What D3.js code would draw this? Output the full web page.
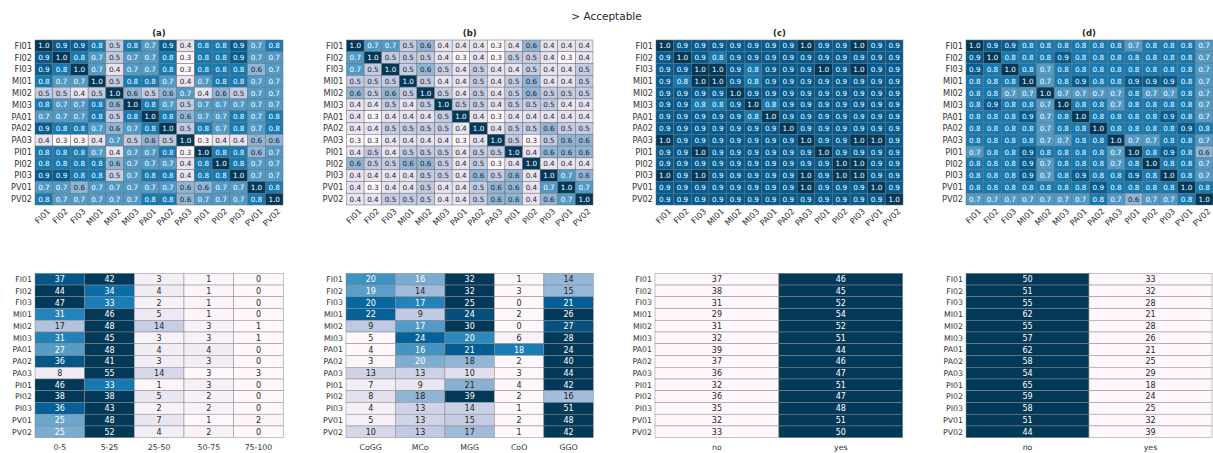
<!DOCTYPE html>
<html>
<head>
<meta charset="utf-8">
<script src="https://cdn.jsdelivr.net/npm/d3@7"></script>
<style>
  html, body { margin: 0; padding: 0; background: #fff; }
  svg { display: block; font-family: "DejaVu Sans", sans-serif; }
</style>
</head>
<body>
<svg id="chart" width="1213" height="453"></svg>
<script>
// ---------- DATA ----------
const regions = ["FI01","FI02","FI03","MI01","MI02","MI03","PA01","PA02","PA03","PI01","PI02","PI03","PV01","PV02"];
const panelTitles = ["(a)","(b)","(c)","(d)"];
const mainTitle = "> Acceptable";

const corrA = [
  [1.0,0.9,0.9,0.8,0.5,0.8,0.7,0.9,0.4,0.8,0.8,0.9,0.7,0.8],
  [0.9,1.0,0.8,0.7,0.5,0.7,0.7,0.8,0.3,0.8,0.8,0.9,0.7,0.7],
  [0.9,0.8,1.0,0.7,0.4,0.7,0.7,0.8,0.3,0.8,0.8,0.8,0.6,0.7],
  [0.8,0.7,0.7,1.0,0.5,0.8,0.8,0.7,0.4,0.7,0.8,0.8,0.7,0.7],
  [0.5,0.5,0.4,0.5,1.0,0.6,0.5,0.6,0.7,0.4,0.6,0.5,0.7,0.7],
  [0.8,0.7,0.7,0.8,0.6,1.0,0.8,0.7,0.5,0.7,0.7,0.7,0.7,0.7],
  [0.7,0.7,0.7,0.8,0.5,0.8,1.0,0.8,0.6,0.7,0.7,0.8,0.7,0.8],
  [0.9,0.8,0.8,0.7,0.6,0.7,0.8,1.0,0.5,0.8,0.7,0.8,0.7,0.8],
  [0.4,0.3,0.3,0.4,0.7,0.5,0.6,0.5,1.0,0.3,0.4,0.4,0.6,0.6],
  [0.8,0.8,0.8,0.7,0.4,0.7,0.7,0.8,0.3,1.0,0.8,0.8,0.6,0.7],
  [0.8,0.8,0.8,0.8,0.6,0.7,0.7,0.7,0.4,0.8,1.0,0.8,0.7,0.7],
  [0.9,0.9,0.8,0.8,0.5,0.7,0.8,0.8,0.4,0.8,0.8,1.0,0.7,0.7],
  [0.7,0.7,0.6,0.7,0.7,0.7,0.7,0.7,0.6,0.6,0.7,0.7,1.0,0.8],
  [0.8,0.7,0.7,0.7,0.7,0.7,0.8,0.8,0.6,0.7,0.7,0.7,0.8,1.0]
];
const corrB = [
  [1.0,0.7,0.7,0.5,0.6,0.4,0.4,0.4,0.3,0.4,0.6,0.4,0.4,0.4],
  [0.7,1.0,0.5,0.5,0.5,0.4,0.3,0.4,0.3,0.5,0.5,0.4,0.3,0.4],
  [0.7,0.5,1.0,0.5,0.6,0.5,0.4,0.5,0.4,0.4,0.5,0.4,0.4,0.5],
  [0.5,0.5,0.5,1.0,0.5,0.4,0.4,0.5,0.4,0.5,0.6,0.4,0.4,0.5],
  [0.6,0.5,0.6,0.5,1.0,0.5,0.4,0.5,0.4,0.5,0.6,0.5,0.5,0.5],
  [0.4,0.4,0.5,0.4,0.5,1.0,0.5,0.5,0.4,0.5,0.5,0.5,0.4,0.4],
  [0.4,0.3,0.4,0.4,0.4,0.5,1.0,0.4,0.3,0.4,0.4,0.4,0.4,0.4],
  [0.4,0.4,0.5,0.5,0.5,0.5,0.4,1.0,0.4,0.5,0.5,0.6,0.5,0.5],
  [0.3,0.3,0.4,0.4,0.4,0.4,0.3,0.4,1.0,0.5,0.3,0.5,0.6,0.6],
  [0.4,0.5,0.4,0.5,0.5,0.5,0.4,0.5,0.5,1.0,0.4,0.6,0.6,0.6],
  [0.6,0.5,0.5,0.6,0.6,0.5,0.4,0.5,0.3,0.4,1.0,0.4,0.4,0.4],
  [0.4,0.4,0.4,0.4,0.5,0.5,0.4,0.6,0.5,0.6,0.4,1.0,0.7,0.6],
  [0.4,0.3,0.4,0.4,0.5,0.4,0.4,0.5,0.6,0.6,0.4,0.7,1.0,0.7],
  [0.4,0.4,0.5,0.5,0.5,0.4,0.4,0.5,0.6,0.6,0.4,0.6,0.7,1.0]
];
const corrC = [
  [1.0,0.9,0.9,0.9,0.9,0.9,0.9,0.9,1.0,0.9,0.9,1.0,0.9,0.9],
  [0.9,1.0,0.9,0.8,0.9,0.9,0.9,0.9,0.9,0.9,0.9,0.9,0.9,0.9],
  [0.9,0.9,1.0,1.0,0.9,0.8,0.9,0.9,0.9,1.0,0.9,1.0,0.9,0.9],
  [0.9,0.8,1.0,1.0,0.9,0.8,0.9,0.9,0.9,0.9,0.9,0.9,0.9,0.9],
  [0.9,0.9,0.9,0.9,1.0,0.9,0.9,0.9,0.9,0.9,0.9,0.9,0.9,0.9],
  [0.9,0.9,0.8,0.8,0.9,1.0,0.8,0.9,0.9,0.9,0.9,0.9,0.9,0.9],
  [0.9,0.9,0.9,0.9,0.9,0.8,1.0,0.9,0.9,0.9,0.9,0.9,0.9,0.9],
  [0.9,0.9,0.9,0.9,0.9,0.9,0.9,1.0,0.9,0.9,0.9,0.9,0.9,0.9],
  [1.0,0.9,0.9,0.9,0.9,0.9,0.9,0.9,1.0,0.9,0.9,1.0,1.0,0.9],
  [0.9,0.9,1.0,0.9,0.9,0.9,0.9,0.9,0.9,1.0,0.9,0.9,0.9,0.9],
  [0.9,0.9,0.9,0.9,0.9,0.9,0.9,0.9,0.9,0.9,1.0,1.0,0.9,0.9],
  [1.0,0.9,1.0,0.9,0.9,0.9,0.9,0.9,1.0,0.9,1.0,1.0,0.9,0.9],
  [0.9,0.9,0.9,0.9,0.9,0.9,0.9,0.9,1.0,0.9,0.9,0.9,1.0,0.9],
  [0.9,0.9,0.9,0.9,0.9,0.9,0.9,0.9,0.9,0.9,0.9,0.9,0.9,1.0]
];
const corrD = [
  [1.0,0.9,0.9,0.8,0.8,0.8,0.8,0.8,0.8,0.7,0.8,0.8,0.8,0.7],
  [0.9,1.0,0.8,0.8,0.8,0.9,0.8,0.8,0.8,0.8,0.8,0.8,0.8,0.7],
  [0.9,0.8,1.0,0.8,0.7,0.8,0.8,0.8,0.8,0.8,0.8,0.8,0.8,0.7],
  [0.8,0.8,0.8,1.0,0.7,0.8,0.9,0.8,0.8,0.9,0.9,0.9,0.8,0.7],
  [0.8,0.8,0.7,0.7,1.0,0.7,0.7,0.7,0.7,0.8,0.7,0.7,0.8,0.7],
  [0.8,0.9,0.8,0.8,0.7,1.0,0.8,0.8,0.7,0.8,0.8,0.8,0.8,0.7],
  [0.8,0.8,0.8,0.9,0.7,0.8,1.0,0.8,0.8,0.8,0.8,0.9,0.8,0.7],
  [0.8,0.8,0.8,0.8,0.7,0.8,0.8,1.0,0.8,0.8,0.8,0.8,0.9,0.8],
  [0.8,0.8,0.8,0.8,0.7,0.7,0.8,0.8,1.0,0.7,0.7,0.8,0.8,0.7],
  [0.7,0.8,0.8,0.9,0.8,0.8,0.8,0.8,0.7,1.0,0.8,0.9,0.8,0.6],
  [0.8,0.8,0.8,0.9,0.7,0.8,0.8,0.8,0.7,0.8,1.0,0.8,0.8,0.7],
  [0.8,0.8,0.8,0.9,0.7,0.8,0.9,0.8,0.8,0.9,0.8,1.0,0.8,0.7],
  [0.8,0.8,0.8,0.8,0.8,0.8,0.8,0.9,0.8,0.8,0.8,0.8,1.0,0.8],
  [0.7,0.7,0.7,0.7,0.7,0.7,0.7,0.8,0.7,0.6,0.7,0.7,0.8,1.0]
];

const binsA = ["0-5","5-25","25-50","50-75","75-100"];
const countsA = [
  [37,42,3,1,0],[44,34,4,1,0],[47,33,2,1,0],[31,46,5,1,0],[17,48,14,3,1],
  [31,45,3,3,1],[27,48,4,4,0],[36,41,3,3,0],[8,55,14,3,3],[46,33,1,3,0],
  [38,38,5,2,0],[36,43,2,2,0],[25,48,7,1,2],[25,52,4,2,0]
];
const catsB = ["CoGG","MCo","MGG","CoO","GGO"];
const countsB = [
  [20,16,32,1,14],[19,14,32,3,15],[20,17,25,0,21],[22,9,24,2,26],[9,17,30,0,27],
  [5,24,20,6,28],[4,16,21,18,24],[3,20,18,2,40],[13,13,10,3,44],[7,9,21,4,42],
  [8,18,39,2,16],[4,13,14,1,51],[5,13,15,2,48],[10,13,17,1,42]
];
const yesNo = ["no","yes"];
const noC  = [37,38,31,29,31,32,39,37,36,32,36,35,32,33];
const yesC = [46,45,52,54,52,51,44,46,47,51,47,48,51,50];
const noD  = [50,51,55,62,55,57,62,58,54,65,59,58,51,44];
const yesD = [33,32,28,21,28,26,21,25,29,18,24,25,32,39];

// ---------- LAYOUT ----------
const svg = d3.select("#chart");
const W = 1213, H = 453;
const lefts  = [35, 346.5, 656, 966];
const rights = [283, 593, 903, 1213];
const topY0 = 40, topY1 = 205;
const botY0 = 273.3, botY1 = 437.7;
const font = "DejaVu Sans, sans-serif";

const topColor = d3.scaleSequential(d3.interpolatePuBu).domain([0.3, 1.0]);

function textColor(c) {
  const rgb = d3.rgb(c);
  const lin = v => { v /= 255; return v <= 0.03928 ? v / 12.92 : Math.pow((v + 0.055) / 1.055, 2.4); };
  const lum = 0.2126 * lin(rgb.r) + 0.7152 * lin(rgb.g) + 0.0722 * lin(rgb.b);
  return lum > 0.408 ? "#262626" : "#ffffff";
}

svg.append("text")
  .attr("x", W / 2).attr("y", 20)
  .attr("text-anchor", "middle")
  .attr("font-size", 10.5).attr("fill", "#262626")
  .text(mainTitle);

// ---------- TOP CORRELATION HEATMAPS ----------
const mats = [corrA, corrB, corrC, corrD];
mats.forEach((m, p) => {
  const x = d3.scaleBand().domain(regions).range([lefts[p], rights[p]]);
  const y = d3.scaleBand().domain(regions).range([topY0, topY1]);
  const g = svg.append("g");
  const cells = [];
  m.forEach((row, i) => row.forEach((v, j) => cells.push({ r: regions[i], c: regions[j], v })));
  g.selectAll("rect").data(cells).join("rect")
    .attr("x", d => x(d.c)).attr("y", d => y(d.r))
    .attr("width", x.bandwidth()).attr("height", y.bandwidth())
    .attr("fill", d => topColor(d.v))
    .attr("stroke", "#6e6e6e").attr("stroke-width", 0.5);
  g.selectAll("text.ann").data(cells).join("text")
    .attr("class", "ann")
    .attr("x", d => x(d.c) + x.bandwidth() / 2)
    .attr("y", d => y(d.r) + y.bandwidth() / 2)
    .attr("dy", "0.36em")
    .attr("text-anchor", "middle")
    .attr("font-size", 7.2)
    .attr("fill", d => textColor(topColor(d.v)))
    .text(d => d3.format(".1f")(d.v));
  // row labels
  g.selectAll("text.rl").data(regions).join("text")
    .attr("class", "rl")
    .attr("x", lefts[p] - 3)
    .attr("y", d => y(d) + y.bandwidth() / 2)
    .attr("dy", "0.36em")
    .attr("text-anchor", "end")
    .attr("font-size", 8.2).attr("fill", "#333")
    .text(d => d);
  // column labels, rotated
  g.selectAll("text.cl").data(regions).join("text")
    .attr("class", "cl")
    .attr("transform", d => `translate(${x(d) + x.bandwidth() / 2 + 4},${topY1 + 4}) rotate(-45)`)
    .attr("dy", "0.5em")
    .attr("text-anchor", "end")
    .attr("font-size", 8.2).attr("fill", "#333")
    .text(d => d);
  // title
  svg.append("text")
    .attr("x", (lefts[p] + Math.min(rights[p], 1212)) / 2 + (p === 3 ? 0 : 0))
    .attr("y", 36)
    .attr("text-anchor", "middle")
    .attr("font-size", 8.5).attr("font-weight", "bold").attr("fill", "#262626")
    .text(panelTitles[p]);
});

// ---------- BOTTOM COUNT TABLES (row-normalised colour) ----------
const tables = [
  { cols: binsA, rows: countsA },
  { cols: catsB, rows: countsB },
  { cols: yesNo, rows: noC.map((n, i) => [n, yesC[i]]) },
  { cols: yesNo, rows: noD.map((n, i) => [n, yesD[i]]) }
];
const botLefts  = [35, 346, 655, 966];
const botRights = [283.3, 593.3, 902.7, 1212];
tables.forEach((t, p) => {
  const x = d3.scaleBand().domain(t.cols).range([botLefts[p], botRights[p]]);
  const y = d3.scaleBand().domain(regions).range([botY0, botY1]);
  const g = svg.append("g");
  const cells = [];
  t.rows.forEach((row, i) => {
    const mn = d3.min(row), mx = d3.max(row);
    const sc = d3.scaleSequential(d3.interpolatePuBu).domain([mn, mx]);
    row.forEach((v, j) => cells.push({ r: regions[i], c: t.cols[j], v, col: sc(v) }));
  });
  g.selectAll("rect").data(cells).join("rect")
    .attr("x", d => x(d.c)).attr("y", d => y(d.r))
    .attr("width", x.bandwidth()).attr("height", y.bandwidth())
    .attr("fill", d => d.col)
    .attr("stroke", "#8a8a8a").attr("stroke-width", 0.5);
  g.selectAll("text.ann").data(cells).join("text")
    .attr("class", "ann")
    .attr("x", d => x(d.c) + x.bandwidth() / 2)
    .attr("y", d => y(d.r) + y.bandwidth() / 2)
    .attr("dy", "0.36em")
    .attr("text-anchor", "middle")
    .attr("font-size", 8)
    .attr("fill", d => textColor(d.col))
    .text(d => d.v);
  g.selectAll("text.rl").data(regions).join("text")
    .attr("class", "rl")
    .attr("x", botLefts[p] - 3)
    .attr("y", d => y(d) + y.bandwidth() / 2)
    .attr("dy", "0.36em")
    .attr("text-anchor", "end")
    .attr("font-size", 7.8).attr("fill", "#333")
    .text(d => d);
  g.selectAll("text.cl").data(t.cols).join("text")
    .attr("class", "cl")
    .attr("x", d => x(d) + x.bandwidth() / 2)
    .attr("y", botY1 + 12)
    .attr("text-anchor", "middle")
    .attr("font-size", 7.8).attr("fill", "#333")
    .text(d => d);
});
</script>
</body>
</html>
